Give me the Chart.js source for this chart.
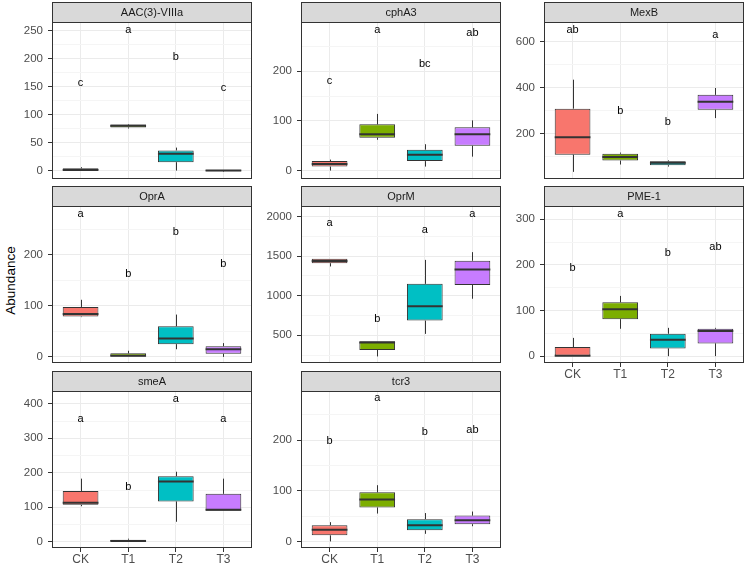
<!DOCTYPE html>
<html>
<head>
<meta charset="utf-8">
<script src="https://cdn.jsdelivr.net/npm/chart.js@4.4.1/dist/chart.umd.min.js"></script>
<style>
    body { margin: 0; background: #fff; }
    #wrap { position: relative; width: 747px; height: 564px; overflow: hidden; font-family: "Liberation Sans", Arial, sans-serif; }
    .panel { position: absolute; }
    #ytitle { position: absolute; left: -32px; top: 273px; width: 84px; text-align: center; font-size: 13.5px; color: #000; transform: rotate(-90deg); }
</style>
</head>
<body>
<div id="wrap">
    <div id="ytitle">Abundance</div>
</div>
<script>
const genes = ['AAC(3)-VIIIa', 'cphA3', 'MexB', 'OprA', 'OprM', 'PME-1', 'smeA', 'tcr3'];
const groups = ['CK', 'T1', 'T2', 'T3'];
const groupColors = ['#F8766D', '#7CAE00', '#00BFC4', '#C77CFF'];

// box stats per gene, order CK, T1, T2, T3
const whiskerLow = [[0, 75, 0, -2], [0, 62, 8, 28], [34, 66, 57, 268], [78, 0, 15, 0], [1370, 233, 518, 962], [0, 60, 0, 0], [103, 0, 58, 90], [0, 55, 15, 30]];
const q1 = [[0, 77, 15, -1], [8, 66, 19, 50], [109, 83, 63, 304], [79, 0, 25, 6], [1411, 315, 686, 1137], [0, 81, 17, 28], [107, 0, 117, 90], [12, 67, 22, 34]];
const median = [[1, 80, 30, 0], [13, 73, 32, 73], [185, 99, 74, 339], [84, 2, 36, 15], [1438, 410, 868, 1331], [1, 103, 36, 55], [113, 2, 175, 93], [23, 83, 32, 42]];
const q3 = [[4, 82, 36, 1], [19, 93, 42, 87], [309, 113, 80, 369], [98, 7, 60, 21], [1466, 425, 1150, 1442], [20, 118, 49, 60], [147, 6, 190, 139], [32, 97, 44, 51]];
const whiskerHigh = [[6, 83, 41, 1], [22, 114, 53, 101], [435, 118, 84, 399], [112, 12, 83, 27], [1466, 425, 1453, 1551], [40, 132, 62, 62], [183, 9, 203, 183], [38, 111, 56, 59]];

// significance letters and their heights
const letters = [['c', 'a', 'b', 'c'], ['c', 'a', 'bc', 'ab'], ['ab', 'b', 'b', 'a'], ['a', 'b', 'b', 'b'], ['a', 'b', 'a', 'a'], ['b', 'a', 'b', 'ab'], ['a', 'b', 'a', 'a'], ['b', 'a', 'b', 'ab']];
const letterY = [[157, 250, 203, 148], [180, 283, 215, 276], [652, 297, 250, 630], [281, 163, 245, 182], [1924, 708, 1830, 2033], [193, 311, 227, 239], [357, 159, 415, 357], [198, 283, 217, 221]];

// y axis range and major tick step per gene
const yMin = [-15, -17, 3, -12, 150, -15, -18, -13];
const yMax = [265, 299, 686, 296, 2134, 329, 437, 297];
const yStep = [50, 100, 200, 100, 500, 100, 100, 100];

const showXLabels = [false, false, false, false, false, true, true, true];

const colLeft = [52, 301, 544];
const rowTop = [2, 186, 371];
const plotW = 200, plotH = 157, stripH = 20, yAxisW = 52;
const font = '"Liberation Sans", Arial, sans-serif';

function isMajor(v, step) {
    return Math.abs(v / step - Math.round(v / step)) < 1e-6;
}

const boxExtras = {
    id: 'boxExtras',
    beforeDatasetsDraw(chart, args, opts) {
        const g = opts.gene;
        const { ctx, scales: { x, y } } = chart;
        ctx.save();
        ctx.strokeStyle = '#333333';
        ctx.lineWidth = 1;
        for (let j = 0; j < groups.length; j++) {
            const px = Math.round(x.getPixelForValue(j + 1)) + 0.5;
            ctx.beginPath();
            ctx.moveTo(px, y.getPixelForValue(whiskerLow[g][j]));
            ctx.lineTo(px, y.getPixelForValue(q1[g][j]));
            ctx.moveTo(px, y.getPixelForValue(q3[g][j]));
            ctx.lineTo(px, y.getPixelForValue(whiskerHigh[g][j]));
            ctx.stroke();
        }
        ctx.restore();
    },
    afterDatasetsDraw(chart, args, opts) {
        const g = opts.gene;
        const { ctx, scales: { x, y } } = chart;
        const bars = chart.getDatasetMeta(0).data;
        ctx.save();
        ctx.strokeStyle = '#333333';
        ctx.lineWidth = 2;
        for (let j = 0; j < groups.length; j++) {
            const px = x.getPixelForValue(j + 1);
            const half = bars[j].width / 2;
            const py = y.getPixelForValue(median[g][j]);
            ctx.beginPath();
            ctx.moveTo(px - half, py);
            ctx.lineTo(px + half, py);
            ctx.stroke();
        }
        ctx.fillStyle = '#000';
        ctx.font = '11px ' + font;
        ctx.textAlign = 'center';
        ctx.textBaseline = 'middle';
        for (let j = 0; j < groups.length; j++) {
            ctx.fillText(letters[g][j], x.getPixelForValue(j + 1), y.getPixelForValue(letterY[g][j]));
        }
        ctx.restore();
    },
    afterDraw(chart, args, opts) {
        const g = opts.gene;
        const { ctx, chartArea: a } = chart;
        ctx.save();
        ctx.strokeStyle = '#333333';
        ctx.lineWidth = 1;
        ctx.strokeRect(a.left + 0.5, a.top + 0.5, a.right - a.left - 1, a.bottom - a.top - 1);
        ctx.fillStyle = '#D9D9D9';
        ctx.fillRect(a.left + 0.5, a.top - stripH + 0.5, a.right - a.left - 1, stripH);
        ctx.strokeRect(a.left + 0.5, a.top - stripH + 0.5, a.right - a.left - 1, stripH);
        ctx.fillStyle = '#1A1A1A';
        ctx.font = '11px ' + font;
        ctx.textAlign = 'center';
        ctx.textBaseline = 'middle';
        ctx.fillText(genes[g], (a.left + a.right) / 2, a.top - stripH / 2 + 1);
        ctx.restore();
    }
};

const wrap = document.getElementById('wrap');

for (let g = 0; g < genes.length; g++) {
    const col = g % 3, row = Math.floor(g / 3);
    const xLabH = showXLabels[g] ? 18 : 0;
    const div = document.createElement('div');
    div.className = 'panel';
    div.style.left = (colLeft[col] - yAxisW) + 'px';
    div.style.top = rowTop[row] + 'px';
    div.style.width = (yAxisW + plotW + 1) + 'px';
    div.style.height = (stripH + plotH + xLabH + 1) + 'px';
    const canvas = document.createElement('canvas');
    div.appendChild(canvas);
    wrap.appendChild(div);

    const step = yStep[g];
    new Chart(canvas.getContext('2d'), {
        type: 'bar',
        data: {
            datasets: [{
                data: groups.map((name, j) => ({ x: j + 1, y: [q1[g][j], q3[g][j]] })),
                backgroundColor: groupColors,
                borderColor: '#333333',
                borderWidth: 1,
                borderSkipped: false,
                barPercentage: 0.75,
                categoryPercentage: 1
            }]
        },
        options: {
            responsive: true,
            maintainAspectRatio: false,
            animation: false,
            layout: { padding: { top: stripH, right: 1, bottom: 1, left: 0 } },
            plugins: {
                legend: { display: false },
                tooltip: { enabled: false },
                boxExtras: { gene: g }
            },
            scales: {
                x: {
                    type: 'linear',
                    min: 0.4,
                    max: 4.6,
                    offset: false,
                    afterBuildTicks: (scale) => { scale.ticks = groups.map((name, j) => ({ value: j + 1 })); },
                    afterFit: (scale) => {
                        scale.height = xLabH;
                        scale.paddingLeft = 0;
                        scale.paddingRight = 0;
                    },
                    border: { display: false },
                    grid: {
                        offset: false,
                        color: '#EBEBEB',
                        drawTicks: showXLabels[g],
                        tickLength: 4,
                        tickColor: '#333333'
                    },
                    ticks: {
                        display: showXLabels[g],
                        autoSkip: false,
                        maxRotation: 0,
                        padding: 0,
                        color: '#4D4D4D',
                        font: { family: font, size: 12 },
                        callback: (v) => groups[Math.round(v) - 1]
                    }
                },
                y: {
                    min: yMin[g],
                    max: yMax[g],
                    afterBuildTicks: (scale) => {
                        const half = step / 2;
                        const ticks = [];
                        for (let v = Math.ceil(yMin[g] / half) * half; v <= yMax[g]; v += half) {
                            ticks.push({ value: v });
                        }
                        scale.ticks = ticks;
                    },
                    afterFit: (scale) => {
                        scale.width = yAxisW;
                        scale.paddingTop = 0;
                        scale.paddingBottom = 0;
                    },
                    border: { display: false },
                    grid: {
                        color: (c) => isMajor(c.tick.value, step) ? '#EBEBEB' : '#F5F5F5',
                        tickLength: 4,
                        tickColor: (c) => isMajor(c.tick.value, step) ? '#333333' : 'rgba(0,0,0,0)'
                    },
                    ticks: {
                        autoSkip: false,
                        padding: 5,
                        color: '#4D4D4D',
                        font: { family: font, size: 11.5 },
                        callback: (v) => isMajor(v, step) ? v : ''
                    }
                }
            }
        },
        plugins: [boxExtras]
    });
}
</script>
</body>
</html>
